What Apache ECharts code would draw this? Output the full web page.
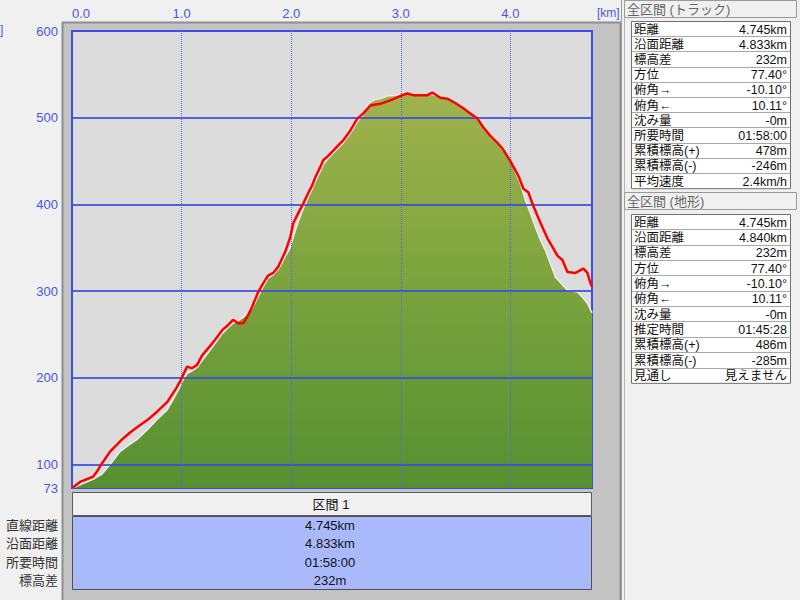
<!DOCTYPE html>
<html><head><meta charset="utf-8">
<script src="https://cdn.jsdelivr.net/npm/echarts@6/dist/echarts.min.js"></script>
<style>html,body{margin:0;padding:0;background:#f0f0f0;}#c{width:800px;height:600px;}</style>
</head><body><div id="c"></div>
<script>
// ---- data ----
const trackKm = [0,0.073,0.192,0.228,0.256,0.347,0.457,0.530,0.603,0.694,0.776,0.868,0.941,0.986,1.005,1.050,1.096,1.142,1.187,1.242,1.306,1.370,1.425,1.470,1.516,1.562,1.598,1.644,1.699,1.744,1.790,1.836,1.881,1.918,1.945,1.991,2.018,2.064,2.110,2.155,2.192,2.219,2.265,2.292,2.338,2.384,2.429,2.475,2.539,2.603,2.658,2.721,2.813,2.904,2.995,3.059,3.114,3.242,3.288,3.361,3.425,3.498,3.571,3.635,3.699,3.753,3.817,3.881,3.936,4.000,4.073,4.119,4.164,4.201,4.247,4.292,4.338,4.384,4.429,4.475,4.521,4.594,4.667,4.703,4.731,4.745];
const trackElev = [73,80,86,92,98,115,129,137,144,152,161,172,186,196,201,213,211,215,226,234,244,255,261,267,263,263,270,282,299,309,318,321,328,338,345,362,378,390,401,413,422,431,443,451,456,462,468,474,485,499,505,514,516,520,525,528,526,526,529,523,522,517,511,505,499,489,479,471,463,450,433,418,414,401,387,374,361,351,341,336,322,321,326,321,309,305];
const terrainKm = [0,0.192,0.274,0.347,0.438,0.502,0.594,0.685,0.776,0.868,0.922,0.986,1.005,1.050,1.096,1.142,1.187,1.242,1.306,1.370,1.425,1.470,1.516,1.562,1.598,1.644,1.699,1.744,1.790,1.836,1.881,1.918,1.945,1.991,2.018,2.064,2.110,2.155,2.192,2.219,2.265,2.292,2.338,2.384,2.429,2.475,2.539,2.603,2.658,2.676,2.721,2.767,2.813,2.877,2.950,2.995,3.087,3.178,3.269,3.361,3.452,3.498,3.571,3.635,3.699,3.753,3.817,3.881,3.936,4.000,4.091,4.137,4.183,4.228,4.274,4.320,4.365,4.411,4.457,4.521,4.612,4.658,4.703,4.745];
const terrainElev = [73,83,89,100,115,121,129,140,152,163,175,190,196,205,208,212,220,229,240,251,258,263,266,270,274,280,294,305,315,319,325,333,340,350,362,380,395,408,418,426,438,446,453,459,465,471,482,495,504,510,518,521,522,525,526,527,527,527,527,525,521,519,513,506,498,490,478,470,462,451,424,405,390,374,359,347,332,316,310,301,299,293,286,275];
const xTicks = [0,1,2,3,4];
const yTicks = [73,100,200,300,400,500,600];
const yGridLines = [100,200,300,400,500];
const xGridLines = [1,2,3,4];
const xUnit = '[km]';
const yUnitVisible = ']';
const trackHeader = '全区間 (トラック)';
const trackStatLabels = ['距離','沿面距離','標高差','方位','俯角→','俯角←','沈み量','所要時間','累積標高(+)','累積標高(-)','平均速度'];
const trackStatValues = ['4.745km','4.833km','232m','77.40°','-10.10°','10.11°','-0m','01:58:00','478m','-246m','2.4km/h'];
const terrainHeader = '全区間 (地形)';
const terrainStatLabels = ['距離','沿面距離','標高差','方位','俯角→','俯角←','沈み量','推定時間','累積標高(+)','累積標高(-)','見通し'];
const terrainStatValues = ['4.745km','4.840km','232m','77.40°','-10.10°','10.11°','-0m','01:45:28','486m','-285m','見えません'];
const sectionHeader = '区間 1';
const sectionLabels = ['直線距離','沿面距離','所要時間','標高差'];
const sectionValues = ['4.745km','4.833km','01:58:00','232m'];

// ---- drawing ----
const FONT = '"Liberation Sans", "Noto Sans CJK JP", sans-serif';
const BLUE = '#4757dc';
const G = [];
function txt(t, x, y, align, color, size, z) {
  return {type:'text', z: z||1, silent:true, style:{text:t, x:x, y:y, fill:color||'#111', font:(size||13)+'px '+FONT,
    textAlign:align||'left', align:align||'left', textVerticalAlign:'middle', verticalAlign:'middle'}};
}
// gray frame around plot + section table
G.push({type:'rect', z:-1, silent:true, shape:{x:62.5,y:22.5,width:558,height:580}, style:{fill:'#c3c3c3', stroke:'#8e8e8e', lineWidth:2}});
// right panel separator
G.push({type:'line', z:-1, silent:true, shape:{x1:621.5,y1:0,x2:621.5,y2:600}, style:{stroke:'#9a9a9a', lineWidth:1}});
G.push({type:'line', z:-1, silent:true, shape:{x1:624.5,y1:0,x2:624.5,y2:600}, style:{stroke:'#b5b5b5', lineWidth:1}});
// units
G.push(txt(xUnit, 597, 13, 'left', BLUE, 12, 5));
G.push(txt(yUnitVisible, 0, 30, 'left', BLUE, 12));

function header(t, y) {
  G.push({type:'rect', silent:true, shape:{x:624.5,y:y+0.5,width:172,height:17}, style:{fill:'#f0f0f0', stroke:'#9a9a9a', lineWidth:1}});
  G.push(txt(t, 627, y+9, 'left', '#666', 13));
}
function statTable(x, y, w, rowH, labels, values) {
  G.push({type:'rect', silent:true, shape:{x:x+0.5,y:y+0.5,width:w,height:rowH*labels.length}, style:{fill:'#ffffff', stroke:'#707070', lineWidth:1}});
  labels.forEach(function(lab, i){
    const yy = Math.round(y + rowH*i) + 0.5;
    if (i > 0) G.push({type:'line', silent:true, shape:{x1:x+1,y1:yy,x2:x+w,y2:yy}, style:{stroke:'#a8a8a8', lineWidth:1}});
    G.push(txt(lab, x+3, y + rowH*i + rowH/2 + 1, 'left', '#111', 12.5));
    G.push(txt(values[i], x+w-3, y + rowH*i + rowH/2 + 1, 'right', '#111', 12.5));
  });
}
header(trackHeader, 0);
statTable(631, 21, 159, 15.2, trackStatLabels, trackStatValues);
header(terrainHeader, 192);
statTable(631, 214, 159, 15.35, terrainStatLabels, terrainStatValues);

// section table under plot
G.push({type:'rect', silent:true, shape:{x:72.5,y:492.5,width:519,height:23}, style:{fill:'#f0f0f0', stroke:'#5a5a5a', lineWidth:1}});
G.push(txt(sectionHeader, 331, 504, 'center', '#111', 13));
G.push({type:'rect', silent:true, shape:{x:72.5,y:516.5,width:519,height:73}, style:{fill:'#a9b9fb', stroke:'#505050', lineWidth:1}});
const secRowY = [525, 543, 562, 580];
sectionLabels.forEach(function(l, i){
  G.push(txt(l, 58, secRowY[i], 'right', '#333', 13));
  G.push(txt(sectionValues[i], 330, secRowY[i], 'center', '#111', 13));
});

const chart = echarts.init(document.getElementById('c'), null, {renderer:'svg', width:800, height:600});
chart.setOption({
  animation:false,
  backgroundColor:'#f0f0f0',
  textStyle:{fontFamily:FONT},
  grid:{left:72, top:31, width:520, height:457, show:true, backgroundColor:'#dcdcdc', borderColor:'#3d4de6', borderWidth:2},
  xAxis:{type:'value', position:'top', min:0, max:4.745,
    axisLine:{show:false}, axisTick:{show:false}, splitLine:{show:false},
    axisLabel:{customValues:xTicks, formatter:function(v){return v.toFixed(1);}, color:BLUE, fontSize:13, margin:11, alignMinLabel:'left', fontFamily:FONT}},
  yAxis:{type:'value', min:73, max:600,
    axisLine:{show:false}, axisTick:{show:false}, splitLine:{show:false},
    axisLabel:{customValues:yTicks, color:BLUE, fontSize:13, margin:14, fontFamily:FONT}},
  series:[
    {type:'line', name:'地形', z:2, symbol:'none', silent:true,
     data: terrainKm.map(function(k,i){return [k, terrainElev[i]];}),
     lineStyle:{color:'#ececec', width:1.5},
     areaStyle:{origin:'start', opacity:1, color:new echarts.graphic.LinearGradient(0,0,0,1,[{offset:0,color:'#a0b24d'},{offset:0.5,color:'#7aa33d'},{offset:1,color:'#568f31'}])},
     markLine:{silent:true, symbol:['none','none'], label:{show:false}, animation:false, z:4,
       data: yGridLines.map(function(v){return {yAxis:v, lineStyle:{color:'rgba(55,75,225,0.85)', width:2, type:'solid'}};})
         .concat(xGridLines.map(function(v){return {xAxis:v, lineStyle:{color:'#4f62f0', width:1, type:'dotted'}};}))}
    },
    {type:'line', name:'トラック', z:6, symbol:'none', silent:true,
     data: trackKm.map(function(k,i){return [k, trackElev[i]];}),
     lineStyle:{color:'#ff0000', width:2.5}}
  ],
  graphic: G
});
</script>
</body></html>
